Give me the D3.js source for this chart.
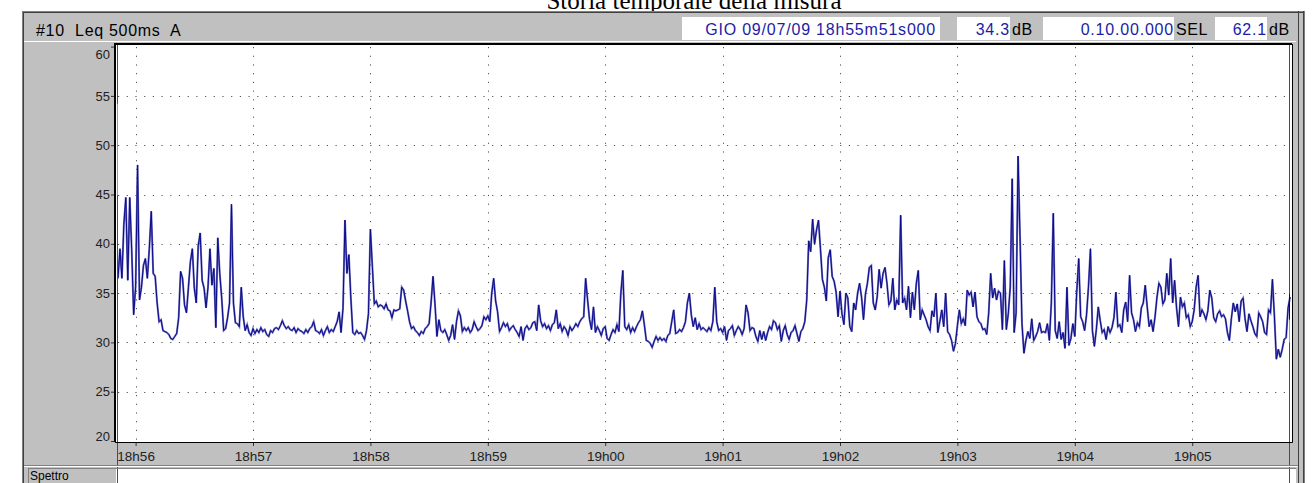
<!DOCTYPE html>
<html>
<head>
<meta charset="utf-8">
<script src="https://cdn.jsdelivr.net/npm/d3@7"></script>
<style>
  body { margin: 0; background: #fff; }
  svg { display: block; }
  text { font-family: "Liberation Sans", Arial, sans-serif; }
</style>
</head>
<body>
<div id="vis"></div>
<script>
/* Storia temporale della misura - Leq 500ms A, 18h55m51 -> 19h05m51 */

// Chart values, one reading per second (dB)
var startStamp = '2009-07-09 18:55:51';
var stepSeconds = 1;

// 18h55m51 -> 18h58m20
var levelsA = [
    36.5, 39.5, 36.5, 42, 44.7, 36.3, 44.7, 39.4, 32.8, 35.6,
    48, 34.3, 35.6, 37.8, 38.5, 36.5, 39.5, 43.3, 37, 36.7,
    34, 32.1, 32.3, 31.2, 31.1, 31.0, 30.8, 30.4, 30.3, 30.6,
    30.9, 32.5, 37.2, 36.5, 33.8, 33.0, 35.6, 38.2, 39.5, 35.5,
    34, 39.8, 41.1, 36.3, 35.5, 33.5, 35.6, 39.5, 35.8, 37.5,
    31.5, 40.6, 37, 34.5, 31.2, 31.4, 32.5, 34, 44, 34,
    32, 31.9, 31.6, 35.6, 32.6, 31.2, 31.8, 31, 30.7, 31.4,
    30.9, 31.3, 31.0, 31.5, 31.1, 31.3, 30.8, 30.6, 31.2, 31.0,
    31.4, 31.5, 31.3, 31.7, 32.2, 31.7, 31.4, 31.6, 31.3, 31.2,
    31.5, 31.0, 31.4, 31.2, 31.1, 30.9, 31.3, 31.0, 31.4, 31.6,
    32.1, 31.2, 31.1, 30.9, 31.3, 30.7, 31.2, 31.6, 31.0, 31.3,
    31.1, 31.6, 32.1, 33.1, 31.0, 33.5, 42.4, 37.0, 38.9, 34.5,
    31.0, 30.8, 31.2, 30.9, 31.0, 30.7, 30.3, 31.2, 32.9, 41.5,
    37.7, 33.9, 34.2, 33.6, 33.8, 33.7, 33.4, 33.9, 33.3, 33.2,
    32.5, 33.3, 33.2, 33.3, 33.4, 35.6, 35.3, 34.2, 33.2, 32.1
];

// 18h58m21 -> 19h00m50
var levelsB = [
    31.4, 31.6, 31.2, 31.0, 30.7, 31.1, 30.9, 31.4, 31.6, 31.9,
    34.0, 36.7, 33.9, 30.6, 32.3, 31.2, 31.0, 31.3, 30.8, 30.2,
    30.7, 31.8, 30.3, 32.1, 33.2, 32.7, 31.1, 31.5, 31.2, 31.5,
    31.0, 31.3, 32.1, 31.6, 31.2, 31.4, 31.7, 32.6, 32.3, 32.7,
    32.1, 35.0, 36.5, 34.2, 33.1, 31.1, 31.5, 32.0, 31.6, 31.9,
    31.2, 31.5, 31.7, 31.3, 31.0, 30.6, 31.6, 30.2, 31.4, 31.7,
    31.3, 31.5, 32.0, 32.1, 31.2, 33.8, 32.2, 31.6, 31.9, 31.4,
    31.7, 31.2, 31.8, 32.0, 33.3, 31.4, 31.9, 31.1, 31.6, 31.3,
    30.7, 31.6, 31.2, 31.5, 31.9, 31.6, 32.1, 32.4, 32.6, 36.5,
    34.3, 32.3, 31.3, 33.6, 31.0, 31.6, 31.2, 30.7, 31.4, 31.6,
    30.4, 30.2, 30.8, 31.3, 31.0, 31.8, 31.1, 35.0, 37.3, 31.6,
    31.3, 31.8, 31.0, 31.5, 31.1, 31.6, 32.0, 32.3, 33.2, 31.8,
    30.2, 30.1, 29.9, 29.5, 30.1, 30.6, 30.2, 30.5, 30.2, 30.4,
    30.1, 30.7, 30.9, 32.1, 33.3, 30.9, 31.0, 31.3, 31.1, 31.5,
    32.1, 34.0, 35.0, 32.8, 31.6, 32.5, 31.3, 31.9, 31.3, 31.5
];

// 19h00m51 -> 19h03m21
var levelsC = [
    31.3, 31.1, 31.5, 31.2, 32.1, 35.6, 32.1, 31.2, 31.4, 31.0,
    31.6, 30.2, 31.2, 31.4, 31.7, 30.7, 31.2, 31.6, 31.3, 30.8,
    31.4, 33.8, 33.0, 31.2, 31.5, 31.4, 30.6, 30.1, 31.2, 30.3,
    31.1, 30.2, 31.0, 31.6, 31.3, 32.2, 32.0, 31.3, 31.7, 30.1,
    31.2, 31.7, 30.8, 30.3, 31.0, 31.2, 31.7, 30.9, 30.1, 31.1,
    31.4, 32.1, 34.3, 40.3, 39.2, 42.5, 40.0, 41.4, 42.4, 39.5,
    36.4, 35.6, 34.2, 38.6, 39.4, 36.7, 36.2, 35.1, 32.6, 35.2,
    32.9, 31.8, 35.0, 34.5, 31.6, 31.1, 34.0, 33.3, 35.0, 36.0,
    34.6, 32.3, 34.9, 36.0, 37.6, 37.8, 34.0, 33.3, 34.6, 37.4,
    35.5, 37.0, 37.6, 36.0, 33.8, 34.2, 36.5, 33.3, 34.3, 33.8,
    42.9, 34.0, 34.5, 33.3, 35.7, 32.5, 35.1, 33.3, 36.0, 37.3,
    32.3, 33.3, 32.8, 32.3, 31.6, 31.2, 33.2, 32.6, 35.0, 31.0,
    32.1, 33.3, 31.6, 35.0, 31.1, 30.8, 30.2, 29.1, 29.9, 31.7,
    33.3, 31.9, 32.4, 31.7, 35.3, 34.8, 35.1, 33.6, 35.1, 32.6,
    32.1, 31.9, 31.3, 31.4, 30.8, 33.0, 37.0, 34.5, 35.5, 34.3,
    35.2
];

// 19h03m22 -> 19h05m50
var levelsD = [
    35.0, 31.3, 38.3, 31.3, 32.9, 35.6, 46.6, 31.0, 33.0, 48.9,
    40.7, 31.9, 28.9, 30.2, 31.1, 30.4, 32.4, 30.2, 30.6, 31.1,
    32.0, 31.0, 31.1, 31.0, 31.9, 30.2, 34.0, 43.1, 31.2, 30.4,
    32.1, 30.3, 31.0, 29.4, 35.6, 29.7, 30.4, 31.9, 30.6, 35.2,
    38.5, 32.6, 32.1, 31.2, 32.8, 35.7, 39.5, 31.2, 29.6, 31.3,
    33.6, 32.2, 31.0, 31.3, 30.3, 31.6, 31.0, 31.5, 32.5, 35.1,
    31.6, 31.8, 31.0, 33.3, 34.1, 32.1, 36.8, 33.0, 32.3, 31.1,
    32.0, 31.6, 33.5, 34.0, 35.8, 33.6, 31.6, 32.3, 31.1, 32.6,
    34.6, 36.0, 35.6, 33.9, 34.3, 37.0, 34.8, 38.5, 34.0, 36.3,
    33.5, 31.6, 34.6, 33.6, 34.0, 32.5, 32.8, 31.6, 32.1, 33.3,
    35.6, 36.8, 32.6, 33.3, 32.9, 32.3, 33.2, 35.3, 34.5, 32.5,
    32.1, 32.9, 33.2, 32.6, 32.8, 32.4, 31.0, 30.2, 32.4, 34.0,
    33.1, 33.9, 32.1, 34.2, 34.5, 32.4, 31.1, 32.9, 32.2, 31.6,
    30.9, 30.6, 33.0, 32.6, 32.1, 31.0, 30.8, 33.3, 33.0, 36.4,
    32.7, 28.3, 29.3, 28.5, 29.3, 30.3, 30.5, 33.5, 34.6
];

// Tick labels
var levelTicks = [20, 25, 30, 35, 40, 45, 50, 55, 60];
var timeTicks = ['18h56', '18h57', '18h58', '18h59', '19h00', '19h01', '19h02', '19h03', '19h04', '19h05'];

// Header texts
var chartTitle = 'Storia temporale della misura';
var channelLabel = '#10\u00a0 Leq 500ms\u00a0 A';
var startLabel = 'GIO 09/07/09 18h55m51s000';
var leqValue = '34.3';
var durationLabel = '0.10.00.000';
var selValue = '62.1';
var bottomLabel = 'Spettro';

/************************************** Layout ***************************************/
var width = 1313;
var height = 483;
var panelGray = '#c0c0c0';
var plot = { left: 116, top: 45, right: 1292, bottom: 442 };

var svg = d3.select('#vis')
    .append('svg')
    .attr('width', width)
    .attr('height', height);

/************************************** Scales ***************************************/
var parseStamp = d3.timeParse('%Y-%m-%d %H:%M:%S');
var t0 = parseStamp(startStamp);
var levels = levelsA.concat(levelsB, levelsC, levelsD);
var t1 = d3.timeSecond.offset(t0, 600);

var xScale = d3.scaleTime()
    .domain([t0, t1])
    .range([118, 1292]);

var yScale = d3.scaleLinear()
    .domain([20, 60])
    .range([441, 46.6]);

var parseTick = d3.timeParse('%Y-%m-%d %Hh%M');
var tickDates = timeTicks.map(function(s) { return parseTick('2009-07-09 ' + s); });

/************************************** Title + frame ***************************************/
// title sits above the window and is cut by the top edge, as in the original screenshot
svg.append('text')
    .attr('x', 694)
    .attr('y', 9)
    .attr('text-anchor', 'middle')
    .style('font-family', '"Liberation Serif", "Times New Roman", serif')
    .style('font-size', '25px')
    .text(chartTitle);

// window frame
svg.append('rect').attr('x', 22).attr('y', 11).attr('width', 1284).attr('height', 480)
    .attr('fill', panelGray);
svg.append('line').attr('x1', 22).attr('x2', 1306).attr('y1', 11.5).attr('y2', 11.5).attr('stroke', '#808080');
svg.append('line').attr('x1', 22).attr('x2', 1306).attr('y1', 12.5).attr('y2', 12.5).attr('stroke', '#404040');
svg.append('line').attr('x1', 22.5).attr('x2', 22.5).attr('y1', 11).attr('y2', 483).attr('stroke', '#808080');
svg.append('line').attr('x1', 23.5).attr('x2', 23.5).attr('y1', 12).attr('y2', 483).attr('stroke', '#404040');
svg.append('rect').attr('x', 1305).attr('y', 0).attr('width', 8).attr('height', 483).attr('fill', '#fff');
svg.append('line').attr('x1', 1298.5).attr('x2', 1298.5).attr('y1', 11).attr('y2', 483).attr('stroke', '#404040');
svg.append('line').attr('x1', 1303.5).attr('x2', 1303.5).attr('y1', 11).attr('y2', 483).attr('stroke', '#404040');
svg.append('line').attr('x1', 1304.5).attr('x2', 1304.5).attr('y1', 11).attr('y2', 483).attr('stroke', '#808080');

/************************************** Header bar ***************************************/
var header = svg.append('g');
header.append('text')
    .attr('x', 36)
    .attr('y', 36)
    .style('font-size', '16px')
    .style('letter-spacing', '0.7px')
    .text(channelLabel);

var boxes = [
    { x: 682, w: 258, text: startLabel, unit: null },
    { x: 957, w: 53, text: leqValue, unit: 'dB' },
    { x: 1043, w: 131, text: durationLabel, unit: 'SEL' },
    { x: 1215, w: 52, text: selValue, unit: 'dB' }
];
boxes.forEach(function(b) {
    header.append('rect')
        .attr('x', b.x).attr('y', 17).attr('width', b.w).attr('height', 23)
        .attr('fill', '#fff');
    header.append('text')
        .attr('x', b.unit ? b.x + b.w : b.x + b.w - 4)
        .attr('y', 35)
        .attr('text-anchor', 'end')
        .attr('fill', '#1c1ca8')
        .style('font-size', '16px')
        .style('letter-spacing', '0.8px')
        .text(b.text);
    if (b.unit) {
        header.append('text')
            .attr('x', b.x + b.w + 2)
            .attr('y', 35)
            .style('font-size', '16px')
            .style('letter-spacing', '0.6px')
            .text(b.unit);
    }
});
header.append('line').attr('x1', 24).attr('x2', 1296).attr('y1', 41.5).attr('y2', 41.5).attr('stroke', '#fff');

/************************************** Plot area ***************************************/
var g = svg.append('g');
g.append('rect')
    .attr('x', plot.left).attr('y', plot.top)
    .attr('width', plot.right - plot.left).attr('height', plot.bottom - plot.top)
    .attr('fill', '#fff');

// dotted grid
g.selectAll('.hgrid')
    .data(levelTicks.slice(1, -1))
    .enter()
    .append('line')
    .attr('x1', plot.left + 2).attr('x2', plot.right)
    .attr('y1', function(d) { return Math.round(yScale(d)) + 0.5; })
    .attr('y2', function(d) { return Math.round(yScale(d)) + 0.5; })
    .attr('stroke', '#555')
    .attr('stroke-dasharray', '1.2,7.5');

g.selectAll('.vgrid')
    .data(tickDates)
    .enter()
    .append('line')
    .attr('x1', function(d) { return Math.round(xScale(d)) + 0.5; })
    .attr('x2', function(d) { return Math.round(xScale(d)) + 0.5; })
    .attr('y1', plot.top + 2).attr('y2', plot.bottom)
    .attr('stroke', '#555')
    .attr('stroke-dasharray', '1.2,7.5');

// level trace
var line = d3.line()
    .x(function(d, i) { return xScale(d3.timeSecond.offset(t0, i * stepSeconds)); })
    .y(function(d) { return yScale(d); });

g.append('path')
    .datum(levels)
    .attr('d', line)
    .attr('fill', 'none')
    .attr('stroke', '#7070c0')
    .attr('stroke-width', 2);

g.append('path')
    .datum(levels)
    .attr('d', line)
    .attr('fill', 'none')
    .attr('stroke', '#0a0a88')
    .attr('stroke-width', 1);

// cursor markers on both edges
g.append('line').attr('x1', 117.5).attr('x2', 117.5).attr('y1', plot.top).attr('y2', height)
    .attr('stroke', '#ff0000');
g.append('line').attr('x1', 117.5).attr('x2', 117.5).attr('y1', yScale(54.2)).attr('y2', yScale(44.9))
    .attr('stroke', '#20e080');
g.append('line').attr('x1', 1289.5).attr('x2', 1289.5).attr('y1', plot.top).attr('y2', height)
    .attr('stroke', '#ff0000');
g.append('line').attr('x1', 1289.5).attr('x2', 1289.5).attr('y1', yScale(34.9)).attr('y2', yScale(32.3))
    .attr('stroke', '#000080');
g.append('line').attr('x1', 1289.5).attr('x2', 1289.5).attr('y1', yScale(32.3)).attr('y2', yScale(30))
    .attr('stroke', '#20e080');

// black frame
g.append('path')
    .attr('d', 'M' + (plot.left - 1) + ',' + plot.bottom + 'V' + (plot.top - 1) + 'H' + plot.right)
    .attr('fill', 'none').attr('stroke', '#000').attr('stroke-width', 2);
g.append('path')
    .attr('d', 'M' + (plot.left - 1) + ',' + (plot.bottom + 0.5) + 'H' + (plot.right + 0.5) + 'V' + (plot.top - 1))
    .attr('fill', 'none').attr('stroke', '#000').attr('stroke-width', 1);

/************************************** Axes ***************************************/
var yAxis = d3.axisLeft(yScale)
    .tickValues(levelTicks)
    .tickSize(3)
    .tickPadding(1)
    .tickFormat(d3.format('d'));

var gY = svg.append('g')
    .attr('transform', 'translate(' + (plot.left - 2) + ',0)')
    .call(yAxis);
gY.select('.domain').remove();
gY.selectAll('text')
    .style('font-size', '13px')
    .attr('fill', '#222')
    .attr('dy', function(d) { return d === 60 ? '0.9em' : (d === 20 ? '-0.05em' : '0.32em'); });
gY.selectAll('line').attr('stroke', '#333');

var xAxis = d3.axisBottom(xScale)
    .tickValues(tickDates)
    .tickSize(3)
    .tickPadding(5)
    .tickFormat(d3.timeFormat('%Hh%M'));

var gX = svg.append('g')
    .attr('transform', 'translate(0,' + (plot.bottom + 1) + ')')
    .call(xAxis);
gX.select('.domain').remove();
gX.selectAll('text').style('font-size', '13.5px').attr('fill', '#222');
gX.selectAll('line').attr('stroke', '#333');

/************************************** Spettro row ***************************************/
svg.append('line').attr('x1', 24).attr('x2', 1298).attr('y1', 465.5).attr('y2', 465.5).attr('stroke', '#808080');
svg.append('line').attr('x1', 24).attr('x2', 1298).attr('y1', 466.5).attr('y2', 466.5).attr('stroke', '#fff');
svg.append('rect').attr('x', 116).attr('y', 468).attr('width', 1180).attr('height', 20).attr('fill', '#fff');
svg.append('line').attr('x1', 28.5).attr('x2', 28.5).attr('y1', 468).attr('y2', 483).attr('stroke', '#808080');
svg.append('line').attr('x1', 28).attr('x2', 1296).attr('y1', 468.5).attr('y2', 468.5).attr('stroke', '#808080');
svg.append('line').attr('x1', 117.5).attr('x2', 117.5).attr('y1', 469).attr('y2', 483).attr('stroke', '#ff0000');
svg.append('line').attr('x1', 1289.5).attr('x2', 1289.5).attr('y1', 469).attr('y2', 483).attr('stroke', '#ff0000');
svg.append('text')
    .attr('x', 30)
    .attr('y', 479.5)
    .style('font-size', '12px')
    .text(bottomLabel);
</script>
</body>
</html>
